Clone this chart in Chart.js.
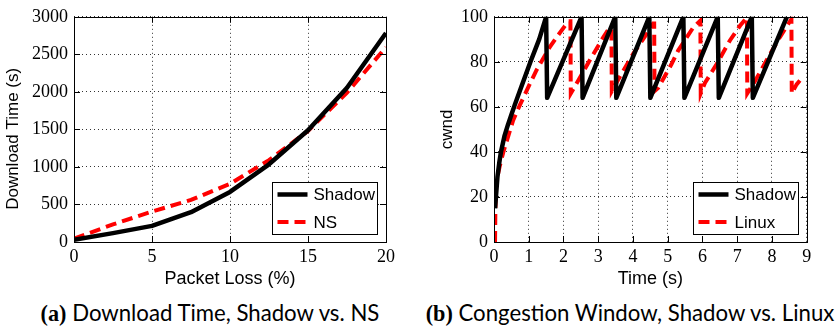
<!DOCTYPE html>
<html><head><meta charset="utf-8">
<script src="https://cdn.jsdelivr.net/npm/chart.js@4.4.1/dist/chart.umd.min.js"></script>
<style>
html,body{margin:0;padding:0;background:#fff;}
body{width:840px;height:331px;position:relative;overflow:hidden;}
.cw{position:absolute;top:0;width:420px;height:290px;}
.cap{position:absolute;top:301px;width:420px;text-align:center;font-family:Lato,"Noto Sans",sans-serif;font-size:22.2px;line-height:24px;color:#000;white-space:nowrap;}
.cap b{font-family:"Liberation Serif",serif;}
</style></head><body>
<div class="cw" style="left:0"><canvas id="c1" width="420" height="290"></canvas></div>
<div class="cw" style="left:420px"><canvas id="c2" width="420" height="290"></canvas></div>
<div class="cap" style="left:0"><b>(a)</b> Download Time, Shadow vs. NS</div>
<div class="cap" style="left:420px"><b>(b)</b> Congestion Window, Shadow vs. Linux</div>
<script>
// ---- data: (a) download time vs packet loss ----
const lossPct = [0, 2.5, 5, 7.5, 10, 12.5, 15, 17.5, 20];
const shadowDownload = [30, 118, 215, 397, 667, 1035, 1488, 2055, 2785];
const nsDownload = [45, 235, 405, 560, 776, 1090, 1480, 1990, 2595];

// ---- data: (b) congestion window over time ----
const shadowTime = [0.03, 0.06, 0.1, 0.15, 0.2, 0.3, 0.4, 0.5, 0.6, 0.8, 1.05, 1.3, 1.5,
  1.53, 2.52, 2.55, 3.49, 3.52, 4.47, 4.5, 5.45, 5.48, 6.44, 6.47, 7.42, 7.45, 8.43];
const shadowCwnd = [15, 21, 29, 35, 40, 47, 52, 56.5, 61, 69.5, 80, 90, 100,
  64, 100, 64, 100, 64, 100, 64, 100, 64, 100, 64, 100, 64, 100];
const linuxTime = [0.03, 0.04, 0.06, 0.1, 0.17, 0.27, 0.41, 0.55, 0.75, 1.04, 1.23, 1.61, 1.9, 2.14, 2.2,
  2.21, 2.38, 2.76, 3.15, 3.3, 3.38,
  3.39, 3.63, 4.01, 4.4, 4.58, 4.61,
  4.62, 4.73, 5.11, 5.3, 5.74, 5.94,
  5.95, 6.07, 6.41, 6.79, 7.08, 7.28,
  7.29, 7.51, 7.85, 8.23, 8.47, 8.56,
  8.57, 8.71, 8.9];
const linuxCwnd = [0, 15, 24, 29, 34, 40, 47, 54, 61, 70.5, 76.5, 86.7, 93, 98, 98,
  66, 70.5, 80.8, 91, 94.6, 95,
  67, 73.6, 83.7, 92.5, 97, 97,
  67, 68.5, 79, 85, 95.4, 98.3,
  66, 70.6, 79, 89.5, 96, 99.7,
  66, 71.4, 80.8, 91, 96.8, 99,
  66, 70, 73.5];

const xTicksA = [0, 5, 10, 15, 20];
const yTicksA = [0, 500, 1000, 1500, 2000, 2500, 3000];
const xTicksB = [0, 1, 2, 3, 4, 5, 6, 7, 8, 9];
const yTicksB = [0, 20, 40, 60, 80, 100];

const pts = (xs, ys) => xs.map((x, i) => ({x, y: ys[i]}));

const frameTicks = {
  id: 'frameTicks',
  afterDraw(chart) {
    const {ctx, chartArea: a, scales: {x, y}} = chart;
    const al = v => Math.round(v) + 0.5;
    const L = 6;
    ctx.save();
    ctx.strokeStyle = '#000';
    ctx.lineWidth = 1;
    ctx.setLineDash([]);
    ctx.beginPath();
    x.ticks.forEach(t => {
      const px = al(x.getPixelForValue(t.value));
      ctx.moveTo(px, a.bottom); ctx.lineTo(px, a.bottom - L);
      ctx.moveTo(px, a.top); ctx.lineTo(px, a.top + L);
    });
    y.ticks.forEach(t => {
      const py = al(y.getPixelForValue(t.value));
      ctx.moveTo(a.left, py); ctx.lineTo(a.left + L, py);
      ctx.moveTo(a.right, py); ctx.lineTo(a.right - L, py);
    });
    ctx.stroke();
    ctx.strokeRect(al(a.left), al(a.top), Math.round(a.right - a.left), Math.round(a.bottom - a.top));
    ctx.restore();
  }
};

const boxLegend = {
  id: 'boxLegend',
  afterDraw(chart) {
    const {ctx, chartArea: a} = chart;
    const w = 105, h = 52;
    const bx = Math.round(a.right - 9 - w) + 0.5, by = Math.round(a.bottom - 8 - h) + 0.5;
    ctx.save();
    ctx.fillStyle = '#fff'; ctx.fillRect(bx, by, w, h);
    ctx.strokeStyle = '#000'; ctx.lineWidth = 1; ctx.setLineDash([]); ctx.strokeRect(bx, by, w, h);
    chart.data.datasets.forEach((ds, i) => {
      const ly = by + 12 + i * 27.4;
      ctx.beginPath();
      ctx.strokeStyle = ds.borderColor; ctx.lineWidth = ds.borderWidth;
      ctx.setLineDash(ds.borderDash || []); ctx.lineCap = 'butt';
      ctx.moveTo(bx + 5, ly); ctx.lineTo(bx + 35, ly); ctx.stroke();
      ctx.setLineDash([]);
      ctx.fillStyle = '#000'; ctx.font = '17px "Liberation Sans"';
      ctx.textBaseline = 'middle'; ctx.textAlign = 'left';
      ctx.fillText(ds.label, bx + 41, ly + 1);
    });
    ctx.restore();
  }
};

function makeChart(id, cfg) {
  const tickFont = {family: "'Liberation Serif', 'Times New Roman', serif", size: 18};
  const titleFont = {family: "'Liberation Sans', Arial, sans-serif", size: 18};
  const yTitleFont = {family: "'Liberation Sans', Arial, sans-serif", size: 17};
  const gridOpts = {color: '#333', lineWidth: 1, drawTicks: false};
  const borderOpts = {display: false, dash: [1, 3]};
  return new Chart(document.getElementById(id), {
    type: 'line',
    data: {datasets: [
      {label: cfg.labels[0], data: cfg.s1, borderColor: '#000', borderWidth: 4.5,
       borderJoinStyle: 'round', borderCapStyle: 'butt', pointRadius: 0, tension: 0, fill: false},
      {label: cfg.labels[1], data: cfg.s2, borderColor: '#ff0000', borderWidth: 4,
       borderDash: [11, 6], borderJoinStyle: 'miter', borderCapStyle: 'butt', pointRadius: 0, tension: 0, fill: false}
    ]},
    options: {
      responsive: false, animation: false, events: [], devicePixelRatio: 1,
      layout: {padding: {left: 0, right: cfg.padRight, top: 13, bottom: 0}},
      plugins: {legend: {display: false}, tooltip: {enabled: false}},
      scales: {
        x: {type: 'linear', min: cfg.xTicks[0], max: cfg.xTicks[cfg.xTicks.length - 1],
            afterBuildTicks: s => { s.ticks = cfg.xTicks.map(v => ({value: v})); },
            afterFit: s => { s.height = 48; },
            grid: gridOpts, border: borderOpts,
            ticks: {font: tickFont, color: '#000', padding: 4, maxRotation: 0, autoSkip: false,
                    callback: v => String(v)},
            title: {display: true, text: cfg.xTitle, font: titleFont, color: '#000', padding: {top: 0, bottom: 0}}},
        y: {type: 'linear', min: cfg.yTicks[0], max: cfg.yTicks[cfg.yTicks.length - 1],
            afterBuildTicks: s => { s.ticks = cfg.yTicks.map(v => ({value: v})); },
            afterFit: s => { s.width = 74; },
            grid: gridOpts, border: borderOpts,
            ticks: {font: tickFont, color: '#000', padding: 6, autoSkip: false,
                    callback: v => String(v)},
            title: {display: true, text: cfg.yTitle, font: yTitleFont, color: '#000', padding: {top: cfg.yTitlePad, bottom: 0}}}
      }
    },
    plugins: [frameTicks, boxLegend]
  });
}

makeChart('c1', {
  labels: ['Shadow', 'NS'], s1: pts(lossPct, shadowDownload), s2: pts(lossPct, nsDownload),
  xTicks: xTicksA, yTicks: yTicksA, xTitle: 'Packet Loss (%)', yTitle: 'Download Time (s)    ',
  padRight: 34, yTitlePad: 3
});
makeChart('c2', {
  labels: ['Shadow', 'Linux'], s1: pts(shadowTime, shadowCwnd), s2: pts(linuxTime, linuxCwnd),
  xTicks: xTicksB, yTicks: yTicksB, xTitle: 'Time (s)', yTitle: 'cwnd',
  padRight: 33.3, yTitlePad: 17.5
});
</script>
</body></html>
